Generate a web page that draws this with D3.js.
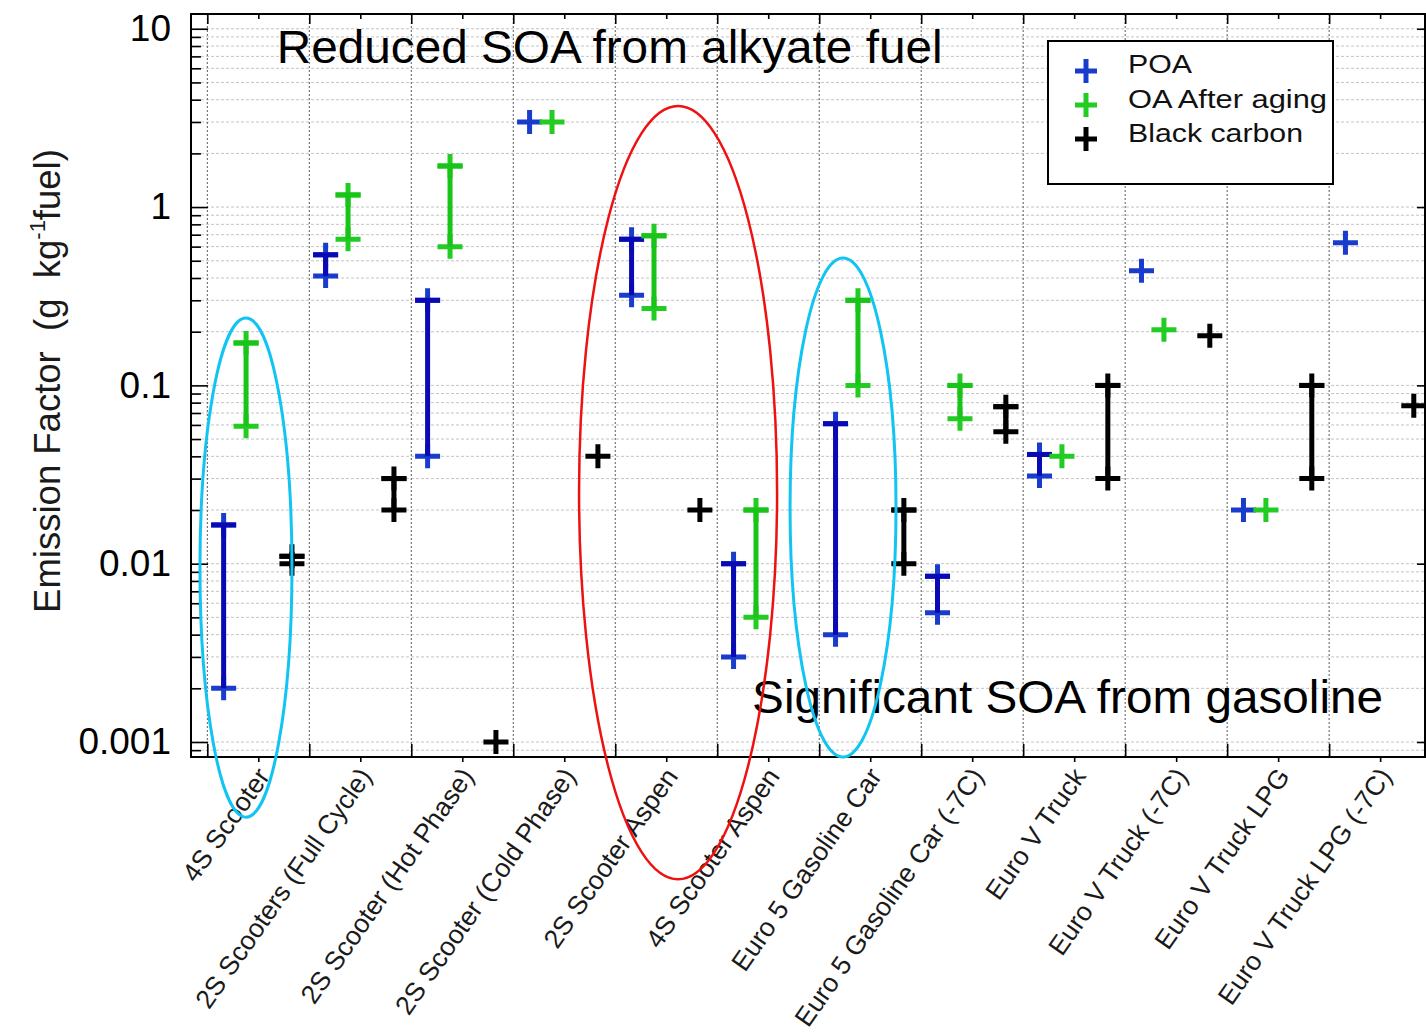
<!DOCTYPE html>
<html>
<head>
<meta charset="utf-8">
<script src="https://cdn.jsdelivr.net/npm/d3@7"></script>
<style>
  html, body { margin: 0; padding: 0; background: #fff; }
  svg { display: block; font-family: "Liberation Sans", Arial, sans-serif; }
</style>
</head>
<body>
<svg id="chart" width="1426" height="1033"></svg>
<script>
// Vehicle / test categories along the x axis
const categories = [
  "4S Scooter", "2S Scooters (Full Cycle)", "2S Scooter (Hot Phase)", "2S Scooter (Cold Phase)",
  "2S Scooter Aspen", "4S Scooter Aspen", "Euro 5 Gasoline Car", "Euro 5 Gasoline Car (-7C)",
  "Euro V Truck", "Euro V Truck (-7C)", "Euro V Truck LPG", "Euro V Truck LPG (-7C)"
];

// Emission factors, g per kg fuel (low / high end of each range; null = not measured)
const poaLow  = [0.0020, 0.41, 0.040, 3.0, 0.32, 0.0030, 0.0040, 0.0053, 0.031, 0.44, 0.020, 0.63];
const poaHigh = [0.0165, 0.54, 0.30,  3.0, 0.66, 0.010,  0.061,  0.0085, 0.041, 0.44, 0.020, 0.63];
const oaLow   = [0.059, 0.66, 0.60, 3.0, 0.27, 0.0050, 0.10, 0.065, 0.040, 0.205, 0.020, null];
const oaHigh  = [0.173, 1.17, 1.70, 3.0, 0.69, 0.020,  0.30, 0.10,  0.040, 0.205, 0.020, null];
const bcLow   = [0.0100, 0.020, 0.001, 0.040, 0.020, null, 0.010, 0.055, 0.030, 0.19, 0.030, 0.077];
const bcHigh  = [0.0110, 0.030, 0.001, 0.040, 0.020, null, 0.020, 0.076, 0.10,  0.19, 0.10,  0.077];

// Axis ticks
const yTickValues = [0.001, 0.01, 0.1, 1, 10];
const yTickLabels = ["0.001", "0.01", "0.1", "1", "10"];

// Legend names
const seriesNames = ["POA", "OA After aging", "Black carbon"];

// Highlight ellipses: category-unit x bounds and value y bounds
const highlightX0 = [-0.072, 3.645, 5.714];
const highlightX1 = [0.83, 5.587, 6.753];
const highlightV0 = [0.000379, 0.000170, 0.000823];
const highlightV1 = [0.2385, 3.69, 0.5176];
const highlightColors = ["#12c4f2", "#ee1111", "#12c4f2"];

const svg = d3.select("#chart");
const plot = { left: 191, right: 1425, top: 14, bottom: 757 };

const x = d3.scaleLinear().domain([-0.16, 11.94]).range([plot.left, plot.right]);
const y = d3.scaleLog().domain([0.000824, 12.1]).range([plot.bottom, plot.top]);

// ---- grid ----
const logGrid = [];
for (let e = -4; e <= 1; e++) {
  for (let k = 1; k <= 9; k++) {
    const v = k * Math.pow(10, e);
    if (v > y.domain()[0] && v < y.domain()[1]) logGrid.push({ v, major: k === 1 });
  }
}
const grid = svg.append("g");
grid.selectAll("line.h").data(logGrid).join("line")
  .attr("x1", plot.left).attr("x2", plot.right)
  .attr("y1", d => y(d.v)).attr("y2", d => y(d.v))
  .attr("stroke", "#c4c4c4").attr("stroke-width", 1).attr("stroke-dasharray", "3,2");
grid.selectAll("line.v").data(d3.range(0, categories.length)).join("line")
  .attr("x1", d => x(d)).attr("x2", d => x(d))
  .attr("y1", plot.top).attr("y2", plot.bottom)
  .attr("stroke", "#5a5a5a").attr("stroke-width", 1).attr("stroke-dasharray", "2,2");

// ---- axes ----
function styleAxis(g) {
  g.select(".domain").remove();
  g.selectAll(".tick line").attr("stroke", "#000").attr("stroke-width", 1.6);
}
const minorVals = logGrid.filter(d => !d.major).map(d => d.v);

svg.append("g").attr("transform", `translate(${plot.left},0)`)
  .call(d3.axisLeft(y).tickValues(minorVals).tickSize(-10).tickFormat(""))
  .call(styleAxis);
svg.append("g").attr("transform", `translate(${plot.left},0)`)
  .call(d3.axisLeft(y).tickValues(yTickValues).tickSize(-17).tickPadding(20)
    .tickFormat((d, i) => yTickLabels[i]))
  .call(styleAxis)
  .call(g => g.selectAll("text").attr("font-size", 37).attr("fill", "#000")
    .attr("font-family", "'Liberation Sans', Arial, sans-serif"));
svg.append("g").attr("transform", `translate(${plot.right},0)`)
  .call(d3.axisRight(y).tickValues(yTickValues).tickSize(-8).tickFormat(""))
  .call(styleAxis);

const bounds = d3.range(0, categories.length);
const centers = categories.map((c, i) => i + 0.5).filter(v => x(v) < plot.right);
svg.append("g").attr("transform", `translate(0,${plot.bottom})`)
  .call(d3.axisBottom(x).tickValues(bounds).tickSize(-13).tickFormat(""))
  .call(styleAxis);
svg.append("g").attr("transform", `translate(0,${plot.bottom})`)
  .call(d3.axisBottom(x).tickValues(centers).tickSize(5).tickFormat(""))
  .call(styleAxis);
svg.append("g").attr("transform", `translate(0,${plot.top})`)
  .call(d3.axisTop(x).tickValues(bounds).tickSize(-10).tickFormat(""))
  .call(styleAxis);
svg.append("g").attr("transform", `translate(0,${plot.top})`)
  .call(d3.axisTop(x).tickValues(centers).tickSize(-5).tickFormat(""))
  .call(styleAxis);

// frame
svg.append("rect")
  .attr("x", plot.left).attr("y", plot.top)
  .attr("width", plot.right - plot.left).attr("height", plot.bottom - plot.top)
  .attr("fill", "none").attr("stroke", "#000").attr("stroke-width", 2);

// category labels
svg.append("g").selectAll("text").data(categories).join("text")
  .attr("transform", (d, i) => `translate(${x(i + 0.5) + 5},${plot.bottom + 14}) rotate(-55)`)
  .attr("text-anchor", "end").attr("dy", "0.35em")
  .attr("font-size", 26.5).attr("fill", "#1a1a1a")
  .text(d => d);

// y axis title
const yTitle = svg.append("text")
  .attr("transform", `translate(60,381) rotate(-90)`)
  .attr("text-anchor", "middle").attr("font-size", 36.5).attr("fill", "#1a1a1a")
  .style("white-space", "pre");
yTitle.append("tspan").text("Emission Factor  (g  kg");
yTitle.append("tspan").attr("font-size", 22).attr("dy", -15).text("-1");
yTitle.append("tspan").attr("dy", 15).text("fuel)");

// ---- annotation text ----
svg.append("text")
  .attr("x", x(0.68)).attr("y", 63)
  .attr("font-size", 47).attr("fill", "#000")
  .attr("textLength", 666).attr("lengthAdjust", "spacingAndGlyphs")
  .text("Reduced SOA from alkyate fuel");
svg.append("text")
  .attr("x", x(5.342)).attr("y", 713)
  .attr("font-size", 47).attr("fill", "#000")
  .attr("textLength", 631).attr("lengthAdjust", "spacingAndGlyphs")
  .text("Significant SOA from gasoline");

// ---- data marks ----
const series = [
  { low: poaLow, high: poaHigh, offset: -0.34, line: "#0a0ab4", mark: "#1a3ccc" },
  { low: oaLow,  high: oaHigh,  offset: -0.12, line: "#18c418", mark: "#22cc22" },
  { low: bcLow,  high: bcHigh,  offset:  0.33, line: "#000000", mark: "#000000" }
];
function crossPath(cx, cy, w, h) {
  return `M${cx - w / 2},${cy}H${cx + w / 2}M${cx},${cy - h / 2}V${cy + h / 2}`;
}
const marks = svg.append("g");
series.forEach(s => {
  const rows = categories.map((c, i) => ({ i, lo: s.low[i], hi: s.high[i] }))
    .filter(d => d.lo != null);
  const g = marks.append("g");
  rows.forEach(d => {
    const cx = x(d.i + 0.5 + s.offset);
    const vals = d.lo === d.hi ? [d.lo] : [d.lo, d.hi];
    vals.forEach(v => {
      g.append("path").attr("d", crossPath(cx, y(v), 25, 24))
        .attr("stroke", s.mark).attr("stroke-width", 5).attr("fill", "none");
    });
    if (vals.length === 2) {
      g.append("line")
        .attr("x1", cx).attr("x2", cx)
        .attr("y1", y(d.lo)).attr("y2", y(d.hi))
        .attr("stroke", s.line).attr("stroke-width", 5);
      g.append("line")
        .attr("x1", cx - 12.5).attr("x2", cx + 12.5)
        .attr("y1", y(d.hi)).attr("y2", y(d.hi))
        .attr("stroke", s.line).attr("stroke-width", 5);
    }
  });
});

// ---- legend ----
const legend = svg.append("g");
legend.append("rect")
  .attr("x", 1048).attr("y", 41).attr("width", 285).attr("height", 143)
  .attr("fill", "#fff").attr("stroke", "#000").attr("stroke-width", 2);
const legendTextLen = [64, 199, 175];
seriesNames.forEach((name, i) => {
  const cy = 71 + i * 34;
  legend.append("path").attr("d", crossPath(1086, cy, 22, 24))
    .attr("stroke", series[i].mark).attr("stroke-width", 5).attr("fill", "none");
  legend.append("text")
    .attr("x", 1128).attr("y", 73 + i * 34.5)
    .attr("font-size", 26).attr("fill", "#111")
    .attr("textLength", legendTextLen[i]).attr("lengthAdjust", "spacingAndGlyphs")
    .text(name);
});

// ---- highlight ellipses ----
svg.append("g").selectAll("ellipse").data(highlightX0).join("ellipse")
  .attr("cx", (d, i) => (x(highlightX0[i]) + x(highlightX1[i])) / 2)
  .attr("cy", (d, i) => (y(highlightV0[i]) + y(highlightV1[i])) / 2)
  .attr("rx", (d, i) => (x(highlightX1[i]) - x(highlightX0[i])) / 2)
  .attr("ry", (d, i) => (y(highlightV0[i]) - y(highlightV1[i])) / 2)
  .attr("fill", "none")
  .attr("stroke", (d, i) => highlightColors[i])
  .attr("stroke-width", (d, i) => i === 1 ? 2.5 : 3);
</script>
</body>
</html>
